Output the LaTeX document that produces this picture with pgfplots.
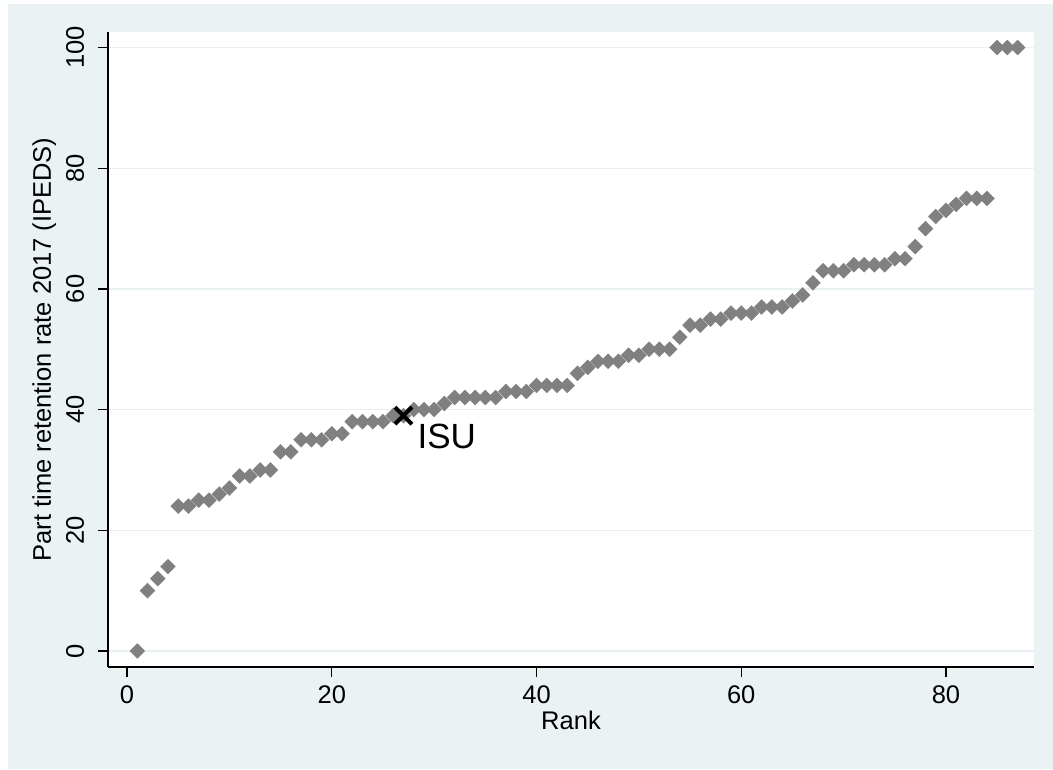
\documentclass[border=0pt]{standalone}
\usepackage{fontspec}
\setmainfont{Liberation Sans}
\usepackage{pgfplots}
\usepackage{pgfplotstable}
\pgfplotsset{compat=1.18}
\definecolor{bg}{RGB}{234,242,243}
\definecolor{gridc}{RGB}{232,240,242}
\definecolor{mk}{RGB}{128,128,128}
\pgfplotstableread{
rank val
1 0
2 10
3 12
4 14
5 24
6 24
7 25
8 25
9 26
10 27
11 29
12 29
13 30
14 30
15 33
16 33
17 35
18 35
19 35
20 36
21 36
22 38
23 38
24 38
25 38
26 39
27 39
28 40
29 40
30 40
31 41
32 42
33 42
34 42
35 42
36 42
37 43
38 43
39 43
40 44
41 44
42 44
43 44
44 46
45 47
46 48
47 48
48 48
49 49
50 49
51 50
52 50
53 50
54 52
55 54
56 54
57 55
58 55
59 56
60 56
61 56
62 57
63 57
64 57
65 58
66 59
67 61
68 63
69 63
70 63
71 64
72 64
73 64
74 64
75 65
76 65
77 67
78 70
79 72
80 73
81 74
82 75
83 75
84 75
85 100
86 100
87 100
}\rankdata
\begin{document}
\begin{tikzpicture}[x=1pt,y=1pt]
\useasboundingbox (0,0) rectangle (1053,769);
\fill[white] (0,0) rectangle (1053,769);
\fill[bg] (8,0) rectangle (1053,765);
\begin{axis}[
  at={(108pt,102pt)}, anchor=south west,
  width=926pt, height=635pt, scale only axis,
  xmin=-1.86, xmax=88.6, ymin=-2.65, ymax=102.57,
  axis background/.style={fill=white},
  axis x line*=bottom, axis y line*=left,
  axis line style={black, line width=1.3pt},
  xtick={0,20,40,60,80}, ytick={0,20,40,60,80,100},
  tick align=outside, major tick length=10pt,
  tick style={black, line width=1.2pt},
  ymajorgrids, grid style={gridc, line width=1.3pt},
  /pgf/number format/assume math mode=true,
  tick label style={font=\fontsize{25.5}{30}\selectfont},
  xticklabel style={anchor=base, inner sep=0pt, yshift=-26.5pt},
  yticklabel style={xshift=-14pt, rotate=90, anchor=base, inner sep=0pt},
  every axis x label/.style={at={(axis description cs:0.5,0)}, anchor=base, inner sep=0pt, yshift=-63pt, font=\fontsize{25.5}{30}\selectfont},
  every axis y label/.style={at={(axis description cs:0,0.5)}, xshift=-57pt, rotate=90, anchor=base, inner sep=0pt, font=\fontsize{25.5}{30}\selectfont},
  xlabel={Rank},
  ylabel={Part time retention rate 2017 (IPEDS)},
  clip=false,
]
\addplot[only marks, mark=square*, mark size=5.3pt, mark options={rotate=45, fill=mk, draw=mk, line width=0.3pt}] table[x=rank, y=val] {\rankdata};
\addplot[only marks, mark=x, mark size=12pt, mark options={line width=4pt, black}] coordinates {(27,39)} node[anchor=base west, inner sep=0pt, xshift=14pt, yshift=-33pt, font=\fontsize{35}{40}\selectfont] {ISU};
\end{axis}
\end{tikzpicture}
\end{document}
